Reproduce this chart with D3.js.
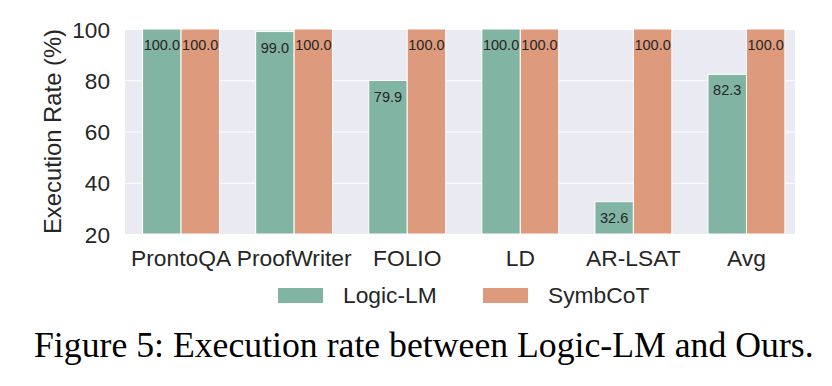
<!DOCTYPE html>
<html>
<head>
<meta charset="utf-8">
<script src="https://cdn.jsdelivr.net/npm/d3@7"></script>
<style>
  body { margin: 0; background: #fff; }
  svg { display: block; }
</style>
</head>
<body>
<div id="chart"></div>
<script>
// data
var categories = ["ProntoQA", "ProofWriter", "FOLIO", "LD", "AR-LSAT", "Avg"];
var series = ["Logic-LM", "SymbCoT"];
var logicLM = [100.0, 99.0, 79.9, 100.0, 32.6, 82.3];
var symbCoT = [100.0, 100.0, 100.0, 100.0, 100.0, 100.0];
var yTicks = [20, 40, 60, 80, 100];

var colors = {"Logic-LM": "#81b4a2", "SymbCoT": "#dd9a7c"};
var font = "'Liberation Sans', Arial, sans-serif";

var W = 832, H = 386;
var plot = {left: 125, right: 795, top: 29, bottom: 234};

var svg = d3.select("#chart")
    .append("svg")
    .attr("width", W)
    .attr("height", H);

// background panel (seaborn darkgrid)
svg.append("rect")
    .attr("x", plot.left)
    .attr("y", plot.top)
    .attr("width", plot.right - plot.left)
    .attr("height", plot.bottom - plot.top)
    .attr("fill", "#eaeaf2");

var x = d3.scaleBand()
    .domain(categories)
    .range([124.5, 803])
    .padding(0);

var y = d3.scaleLinear()
    .domain([20, 100])
    .range([plot.bottom, plot.top]);

// grid lines
svg.append("g")
    .attr("class", "grid")
    .attr("transform", "translate(" + plot.left + ",0)")
    .call(d3.axisLeft(y)
        .tickValues(yTicks)
        .tickSize(-(plot.right - plot.left))
        .tickFormat(""))
    .call(g => g.select(".domain").remove());

svg.selectAll(".grid line")
    .style("stroke", "#fff")
    .style("stroke-width", 1.2);

// bars
var barW = x.bandwidth() * 0.34;
var rows = [];
categories.forEach(function(c, i) {
    rows.push({cat: c, s: "Logic-LM", v: logicLM[i], off: -barW});
    rows.push({cat: c, s: "SymbCoT", v: symbCoT[i], off: 0});
});

svg.append("g")
    .selectAll("rect")
    .data(rows)
    .enter()
    .append("rect")
      .attr("x", d => x(d.cat) + x.bandwidth() / 2 + d.off)
      .attr("y", d => y(d.v))
      .attr("width", barW)
      .attr("height", d => y(20) - y(d.v))
      .attr("fill", d => colors[d.s])
      .attr("stroke", "#fff")
      .attr("stroke-width", 1);

// value labels
svg.append("g")
    .selectAll("text")
    .data(rows)
    .enter()
    .append("text")
      .attr("x", d => x(d.cat) + x.bandwidth() / 2 + d.off + barW / 2)
      .attr("y", d => y(d.v) + 21)
      .attr("text-anchor", "middle")
      .style("font", "14.5px " + font)
      .style("fill", "#262626")
      .text(d => d.v.toFixed(1));

// y axis labels
var yAxis = svg.append("g")
    .attr("transform", "translate(" + plot.left + ",0)")
    .call(d3.axisLeft(y).tickValues(yTicks).tickSize(0).tickPadding(15));
yAxis.select(".domain").remove();
yAxis.selectAll("text")
    .style("font", "22.6px " + font)
    .style("fill", "#262626")
    .attr("dy", "0.36em");

// x axis labels
var xAxis = svg.append("g")
    .attr("transform", "translate(0," + plot.bottom + ")")
    .call(d3.axisBottom(x).tickSize(0).tickPadding(0));
xAxis.select(".domain").remove();
xAxis.selectAll("text")
    .attr("dy", null)
    .attr("y", 32)
    .style("font", "22.8px " + font)
    .style("fill", "#262626");

// y title
svg.append("text")
    .attr("transform", "translate(61," + ((plot.top + plot.bottom) / 2) + ") rotate(-90)")
    .attr("text-anchor", "middle")
    .style("font", "23.8px " + font)
    .style("fill", "#262626")
    .text("Execution Rate (%)");

// legend
var legendX = [278, 483];
var legend = svg.append("g")
    .selectAll("g")
    .data(series)
    .enter()
    .append("g")
      .attr("transform", (d, i) => "translate(" + legendX[i] + ",288)");

legend.append("rect")
    .attr("width", 45)
    .attr("height", 15)
    .attr("fill", d => colors[d]);

legend.append("text")
    .attr("x", 65)
    .attr("y", 15)
    .style("font", "22.8px " + font)
    .style("fill", "#262626")
    .text(d => d);

// caption, sized to span the figure width
var cap = svg.append("text")
    .attr("x", 34)
    .attr("y", 357)
    .style("font-family", "'Liberation Serif', 'Times New Roman', serif")
    .style("font-size", "30px")
    .style("fill", "#000")
    .text("Figure 5: Execution rate between Logic-LM and Ours.");
var len = cap.node().getComputedTextLength();
cap.style("font-size", (30 * 780 / len) + "px");
</script>
</body>
</html>
